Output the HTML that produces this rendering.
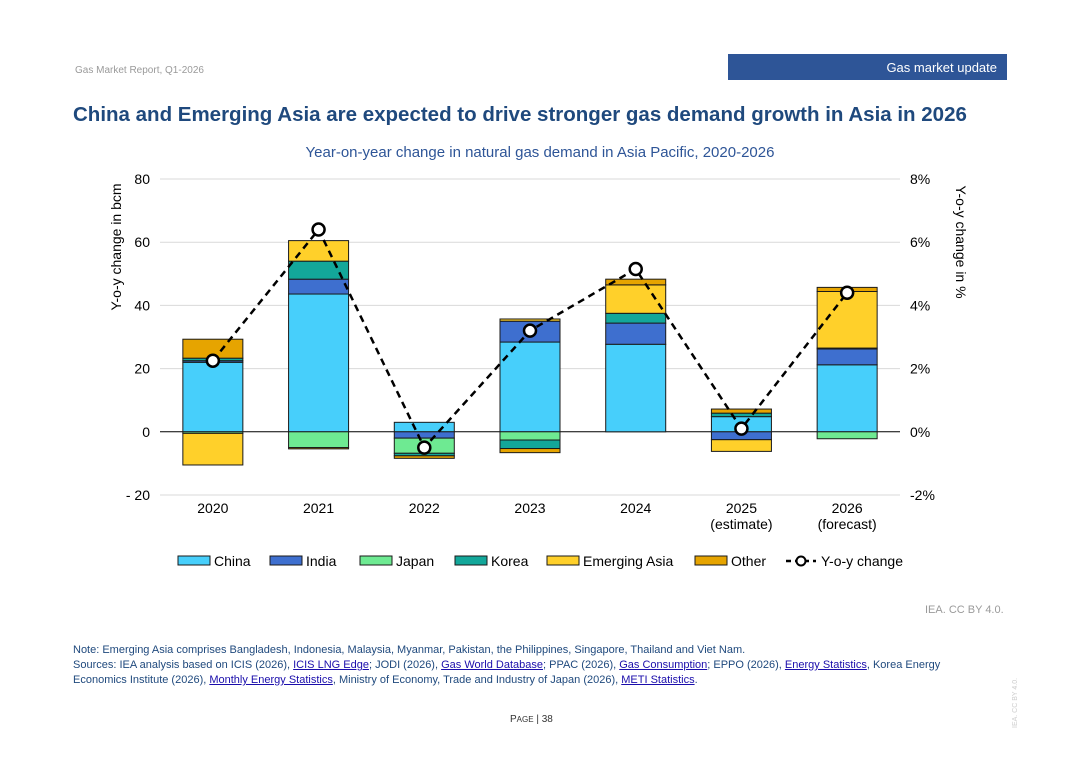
<!DOCTYPE html>
<html><head><meta charset="utf-8">
<style>
body{margin:0;width:1080px;height:764px;background:#fff;font-family:"Liberation Sans",Arial,sans-serif;position:relative;overflow:hidden}
.abs{position:absolute}
a{color:#1a0dab;text-decoration:underline}
</style></head><body>
<div class="abs" style="left:75px;top:65px;font-size:10px;color:#9a9a9a">Gas Market Report, Q1-2026</div>
<div class="abs" style="left:728px;top:54px;width:279px;height:26px;background:#2e5597;color:#fff;font-size:13px;text-align:right;box-sizing:border-box;padding:6px 10px 0 0">Gas market update</div>
<div class="abs" style="left:73px;top:103px;font-size:20.5px;font-weight:bold;color:#1f497d">China and Emerging Asia are expected to drive stronger gas demand growth in Asia in 2026</div>
<svg class="abs" style="left:0;top:0" width="1080" height="764" id="chart" font-family="Liberation Sans, Arial, sans-serif"></svg>
<div class="abs" style="left:925px;top:604px;font-size:11px;color:#9a9a9a">IEA. CC BY 4.0.</div>
<div class="abs" style="left:73px;top:643px;width:920px;font-size:11px;color:#1f497d;line-height:15px">Note: Emerging Asia comprises Bangladesh, Indonesia, Malaysia, Myanmar, Pakistan, the Philippines, Singapore, Thailand and Viet Nam.<br>Sources: IEA analysis based on ICIS (2026), <a>ICIS LNG Edge</a>; JODI (2026), <a>Gas World Database</a>; PPAC (2026), <a>Gas Consumption</a>; EPPO (2026), <a>Energy Statistics</a>, Korea Energy Economics Institute (2026), <a>Monthly Energy Statistics</a>, Ministry of Economy, Trade and Industry of Japan (2026), <a>METI Statistics</a>.</div>
<div class="abs" style="left:510px;top:714px;font-size:10px;color:#333">P<span style="font-size:8px">AGE</span> | 38</div>
<div class="abs" style="left:1012px;top:728px;font-size:7px;color:#ccc;transform:rotate(-90deg);transform-origin:0 0">IEA. CC BY 4.0.</div>
<script>
const categories=["2020","2021","2022","2023","2024","2025","2026"];
const sub=["","","","","","(estimate)","(forecast)"];
const seriesNames=["China","India","Japan","Korea","Emerging Asia","Other"];
const china=[22,43.6,3,28.4,27.7,4.8,21.2];
const india=[0.5,4.7,-2,6.6,6.7,-2.5,5];
const japan=[-0.5,-5,-4.8,-2.6,0,0,-2.2];
const korea=[0.8,5.7,-0.8,-2.7,3.1,1.1,0.3];
const emergingAsia=[-10,6.5,0,0.7,9,-3.7,17.9];
const other=[6,-0.4,-0.8,-1.3,1.8,1.3,1.3];
const yoy=[2.25,6.4,-0.5,3.2,5.15,0.1,4.4];
const leftTicks=[80,60,40,20,0,-20];
const rightTicks=["8%","6%","4%","2%","0%","-2%"];
const colors=["#47cffb","#3e6fcf","#6eea92","#13a79a","#ffd02a","#e6a400"];
const NS="http://www.w3.org/2000/svg";
const svg=document.getElementById('chart');
const x0=160,x1=900,yTop=179,yBot=495,vmin=-20,vmax=80;
const y=v=>yBot-(v-vmin)/(vmax-vmin)*(yBot-yTop);
const yp=p=>y(p*10);
const xc=i=>x0+(x1-x0)*(i+0.5)/categories.length;
function mk(t,a,txt){const e=document.createElementNS(NS,t);for(const k in a)e.setAttribute(k,a[k]);if(txt!==undefined)e.textContent=txt;svg.appendChild(e);return e;}
let e=mk('text',{x:540,y:157,'text-anchor':'middle','font-size':15,fill:'#2e5597'},'Year-on-year change in natural gas demand in Asia Pacific, 2020-2026');


leftTicks.forEach((t,i)=>{
 const g=mk('line',{x1:x0,x2:x1,y1:y(t),y2:y(t),stroke:t===0?'#000':'#d9d9d9','stroke-width':1});
 
 
 const l=mk('text',{x:150,y:y(t)+5,'text-anchor':'end','font-size':14,fill:'#000'},t<0?'- '+(-t):String(t));
 
 
 const r=mk('text',{x:910,y:y(t)+5,'font-size':14,fill:'#000'},rightTicks[i]);
 
 
});
e=mk('text',{transform:'translate(121,247) rotate(-90)','text-anchor':'middle','font-size':14},'Y-o-y change in bcm');


e=mk('text',{transform:'translate(956,242) rotate(90)','text-anchor':'middle','font-size':14},'Y-o-y change in %');


const all=[china,india,japan,korea,emergingAsia,other];
categories.forEach((c,i)=>{
 let pos=0,neg=0;
 all.forEach((s,k)=>{
  const v=s[i];if(!v)return;
  let a,b;
  if(v>0){a=pos;b=pos+v;pos=b;}else{a=neg;b=neg+v;neg=b;}
  const r=mk('rect',{x:xc(i)-30,y:Math.min(y(a),y(b)),width:60,height:Math.abs(y(a)-y(b)),fill:colors[k],stroke:'#1a1a1a','stroke-width':1});
  
  
 });
 const t=mk('text',{x:xc(i),y:513,'text-anchor':'middle','font-size':14},c);
 
 
 if(sub[i]){const s2=mk('text',{x:xc(i),y:529,'text-anchor':'middle','font-size':14},sub[i]);
 
 }
});
const pl=mk('polyline',{points:yoy.map((v,i)=>xc(i)+','+yp(v)).join(' '),fill:'none',stroke:'#000','stroke-width':2.5,'stroke-dasharray':'7,5'});


yoy.forEach((v,i)=>{const c=mk('circle',{cx:xc(i),cy:yp(v),r:6,fill:'#fff',stroke:'#000','stroke-width':2.5});
 
 });
const lx=[178,270,360,455,547,695];
seriesNames.forEach((n,k)=>{
 const r=mk('rect',{x:lx[k],y:556,width:32,height:9,fill:colors[k],stroke:'#1a1a1a'});
 
 
 const t=mk('text',{x:lx[k]+36,y:566,'font-size':14},n);
 
 
});
e=mk('line',{x1:786,x2:816,y1:561,y2:561,stroke:'#000','stroke-width':2.5,'stroke-dasharray':'5,4'});


e=mk('circle',{cx:801,cy:561,r:4.5,fill:'#fff',stroke:'#000','stroke-width':2});


e=mk('text',{x:821,y:566,'font-size':14},'Y-o-y change');


</script>
</body></html>
